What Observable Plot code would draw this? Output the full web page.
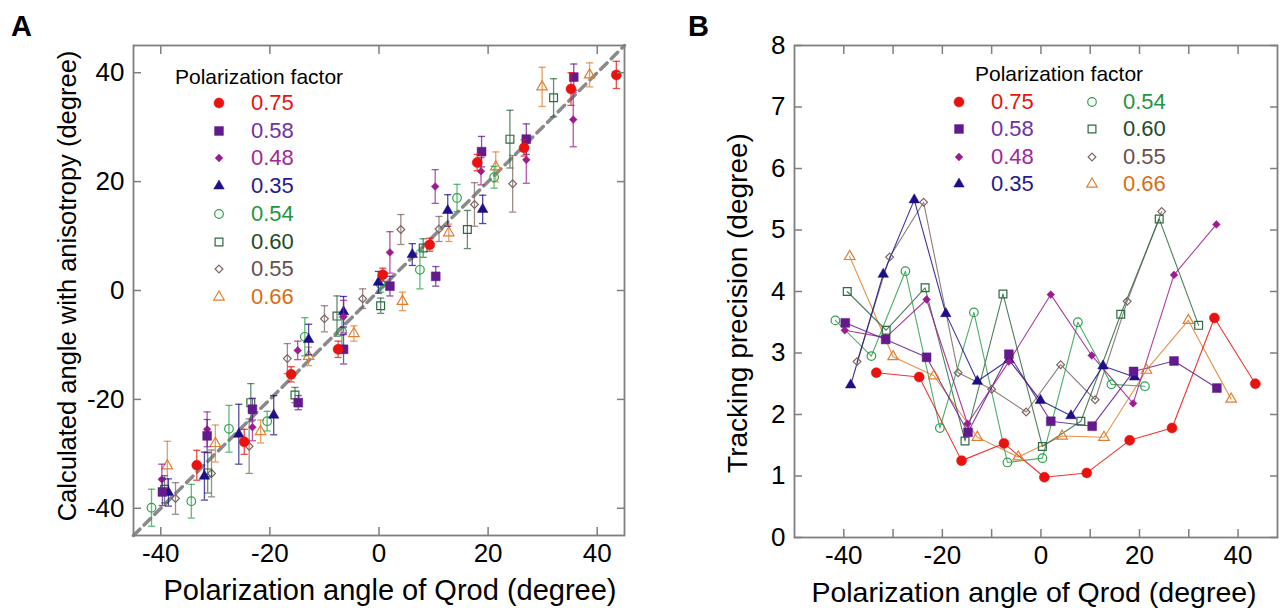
<!DOCTYPE html>
<html><head><meta charset="utf-8">
<script src="https://cdn.jsdelivr.net/npm/d3@7"></script>
<script src="https://cdn.jsdelivr.net/npm/@observablehq/plot@0.6"></script>
<style>
body{margin:0;background:#fff;font-family:"Liberation Sans",Arial,sans-serif;}
#wrap{position:relative;width:1284px;height:610px;overflow:hidden;background:#fff;}
.abs{position:absolute;white-space:nowrap;line-height:1;}
.plot{position:absolute;top:0;}
</style></head><body><div id="wrap"></div>
<script>
// ---------- data ----------
const factors = ["0.75","0.58","0.48","0.35","0.54","0.60","0.55","0.66"];
const symbols = ["circle","square","diamond2","triangle","circle","square","diamond2","triangle"];
const filled = [true,true,true,true,false,false,false,false];
const markerColors = ["#e8120e","#621a8c","#9c1b90","#1c0f88","#2fa14d","#2e6a41","#7d6561","#e27e2f"];
const textColors = ["#e8120e","#7131a1","#a1279b","#27198f","#1f9643","#1d4b27","#66514b","#d86d13"];

// Polarization angle of Qrod (degree), one array per factor (same order as factors)
const qrodAngle = [
  [-33.4,-24.7,-16.1,-7.5,0.7,9.3,18.0,26.6,35.2,43.5],
  [-39.7,-31.5,-23.2,-14.8,-6.5,2.0,10.4,18.8,27.0,35.7],
  [-39.8,-31.5,-23.2,-14.9,-6.5,2.0,10.3,18.7,27.0,35.6],
  [-38.6,-32.0,-25.7,-19.3,-12.9,-6.5,-0.1,6.1,12.6,19.0],
  [-41.7,-34.4,-27.5,-20.5,-13.6,-6.8,0.3,7.5,14.3,21.1],
  [-39.3,-31.4,-23.5,-15.4,-7.7,0.3,8.1,16.2,24.0,32.0],
  [-37.3,-30.7,-23.8,-16.8,-10.0,-3.0,4.0,11.0,17.5,24.5],
  [-38.8,-30.0,-21.7,-12.9,-4.6,4.3,12.8,21.4,29.9,38.6]
];
// Panel A: calculated angle with anisotropy (degree)
const calcAngle = [
  [-32.1,-27.8,-15.4,-10.8,2.9,8.4,23.5,26.2,37.0,39.6],
  [-37.0,-26.7,-21.8,-20.6,-10.8,0.8,2.6,25.5,27.8,39.2],
  [-34.7,-25.5,-25.1,-11.0,-4.8,7.0,19.1,21.9,24.0,31.4],
  [-37.1,-34.1,-26.4,-22.9,-9.0,-3.9,1.5,6.6,14.7,14.9],
  [-39.9,-38.7,-25.4,-24.0,-8.5,-7.5,1.2,3.8,17.0,20.8],
  [-36.5,-33.5,-20.6,-19.2,-4.7,-2.8,7.8,11.2,27.8,35.4],
  [-38.2,-33.6,-28.6,-12.5,-5.2,-1.5,11.2,11.3,15.8,19.6],
  [-32.2,-28.1,-25.9,-12.1,-7.9,-2.0,10.6,22.7,37.4,39.6]
];
// Panel A: error (half range, degree)
const calcErr = [
  [2.75,2.3,1.4,1.5,1.2,1.2,1.5,1.5,3.0,2.5],
  [2.5,3.0,2.0,1.3,2.7,1.8,1.8,2.8,2.8,2.4],
  [2.8,3.2,2.5,1.7,3.0,3.8,3.1,2.5,4.3,5.0],
  [2.5,4.4,5.5,3.6,2.8,2.8,2.0,2.0,2.9,2.6],
  [3.4,3.1,4.3,1.8,3.5,2.6,1.5,3.5,2.5,2.0],
  [2.5,3.7,3.5,1.4,3.7,1.4,1.7,3.5,5.3,3.5],
  [2.9,4.3,5.0,2.75,2.4,1.8,2.75,2.3,4.0,5.2],
  [4.5,3.4,2.1,1.7,1.4,1.7,1.6,2.75,3.6,2.2]
];
// Panel B: tracking precision (degree)
const precision = [
  [2.68,2.61,1.25,1.53,0.98,1.05,1.58,1.78,3.57,2.50],
  [3.49,3.22,2.93,1.71,2.98,1.89,1.81,2.70,2.87,2.43],
  [3.37,3.25,3.87,1.85,2.86,3.95,2.96,2.18,4.27,5.09],
  [2.48,4.28,5.49,3.64,2.54,2.89,2.23,1.98,2.79,2.61],
  [3.53,2.95,4.33,1.78,3.66,1.22,1.29,3.50,2.49,2.46],
  [4.00,3.37,4.06,1.57,3.96,1.48,1.89,3.63,5.18,3.45],
  [2.86,4.56,5.45,2.68,2.41,2.04,2.81,2.24,3.84,5.30],
  [4.57,2.94,2.63,1.63,1.31,1.65,1.63,2.72,3.53,2.25]
];
const domainA = [-45,45];
const ticksA = [-40,-20,0,20,40];
const domainBx = [-50,48];
const domainBy = [0,8];
const ticksBx = [-40,-30,-20,-10,0,10,20,30,40];
const ticksBy = [0,1,2,3,4,5,6,7,8];

// ---------- build ----------
const radii = [5,5,3.5,3.9,4.3,4.4,3.5,3.9];
const drawOrder = [7,6,5,4,3,2,1,0];
const wrap = document.getElementById("wrap");
const font = "Liberation Sans, Arial, sans-serif";
const frameColor = "#7f7f7f";
const cap = {draw(ctx, size){ const r = Math.sqrt(size/Math.PI); ctx.moveTo(-r,0); ctx.lineTo(r,0); }};

const rowsA = [], rowsB = [];
factors.forEach((f,s) => qrodAngle[s].forEach((x,i) => {
  rowsA.push({s, f, x, y: calcAngle[s][i], e: calcErr[s][i]});
  rowsB.push({s, f, x, y: precision[s][i]});
}));

function axes(xt, yt, xfmt, yfmt){
  const common = {stroke: frameColor, strokeWidth: 1.5, fill: "#000", label: null, tickSize: -8};
  return [
    Plot.axisX({...common, anchor: "bottom", ticks: xt, tickPadding: 16, tickFormat: xfmt}),
    Plot.axisX({...common, anchor: "top", ticks: xt, tickFormat: () => ""}),
    Plot.axisY({...common, anchor: "left", ticks: yt, tickPadding: 17, tickFormat: yfmt}),
    Plot.axisY({...common, anchor: "right", ticks: yt, tickFormat: () => ""}),
    Plot.frame({stroke: frameColor, strokeWidth: 1.8})
  ];
}

// Panel A
const marksA = [];
marksA.push(Plot.line([{x: domainA[0], y: domainA[0]}, {x: domainA[1], y: domainA[1]}],
  {x: "x", y: "y", stroke: "#8a8a8a", strokeWidth: 3.5, strokeDasharray: "9,6"}));
for (const s of drawOrder) {
  const d = rowsA.filter(r => r.s === s);
  const c = markerColors[s];
  marksA.push(Plot.ruleX(d, {x: "x", y1: r => r.y - r.e, y2: r => r.y + r.e, stroke: c, strokeOpacity: 0.75, strokeWidth: 1.3}));
  marksA.push(Plot.dot(d, {x: "x", y: r => r.y - r.e, symbol: cap, r: 3.6, fill: "none", stroke: c, strokeOpacity: 0.75, strokeWidth: 1.3}));
  marksA.push(Plot.dot(d, {x: "x", y: r => r.y + r.e, symbol: cap, r: 3.6, fill: "none", stroke: c, strokeOpacity: 0.75, strokeWidth: 1.3}));
  marksA.push(Plot.dot(d, {x: "x", y: "y", symbol: symbols[s], r: radii[s],
    fill: filled[s] ? c : "none", stroke: c, strokeWidth: filled[s] ? 0.5 : 1.2}));
}
marksA.push(...axes(ticksA, ticksA, d => String(d), d => String(d)));

const plotA = Plot.plot({
  width: 650, height: 610,
  marginLeft: 133, marginRight: 26, marginTop: 45, marginBottom: 75,
  x: {domain: domainA, axis: null},
  y: {domain: domainA, axis: null},
  style: {fontFamily: font, fontSize: "26px", background: "transparent", overflow: "visible", color: "#000"},
  marks: marksA
});
plotA.classList.add("plot"); plotA.style.left = "0px";
wrap.appendChild(plotA);

// Panel B
const marksB = [];
for (const s of drawOrder) {
  const d = rowsB.filter(r => r.s === s);
  const c = markerColors[s];
  marksB.push(Plot.line(d, {x: "x", y: "y", stroke: c, strokeWidth: 1.1, strokeOpacity: 0.85}));
}
for (const s of drawOrder) {
  const d = rowsB.filter(r => r.s === s);
  const c = markerColors[s];
  marksB.push(Plot.dot(d, {x: "x", y: "y", symbol: symbols[s], r: radii[s],
    fill: filled[s] ? c : "#fff", fillOpacity: filled[s] ? 1 : 0, stroke: c, strokeWidth: filled[s] ? 0.5 : 1.2}));
}
marksB.push(...axes(ticksBx, ticksBy, d => d % 20 === 0 ? String(d) : "", d => String(d)));

const plotB = Plot.plot({
  width: 634, height: 610,
  marginLeft: 144, marginRight: 7, marginTop: 45, marginBottom: 73,
  x: {domain: domainBx, axis: null},
  y: {domain: domainBy, axis: null},
  style: {fontFamily: font, fontSize: "26px", background: "transparent", overflow: "visible", color: "#000"},
  marks: marksB
});
plotB.classList.add("plot"); plotB.style.left = "650px";
wrap.appendChild(plotB);

// ---------- text overlays ----------
function addText(txt, left, top, size, opts = {}) {
  const el = document.createElement("div");
  el.className = "abs";
  el.textContent = txt;
  el.style.left = left + "px";
  el.style.top = top + "px";
  el.style.fontSize = size + "px";
  el.style.color = opts.color || "#000";
  if (opts.bold) el.style.fontWeight = "bold";
  el.style.transform = opts.transform || "translate(0,-50%)";
  wrap.appendChild(el);
  return el;
}
addText("A", 11, 26, 29, {bold: true});
addText("B", 688, 26, 29, {bold: true});
addText("Polarization angle of Qrod (degree)", 390, 590, 29, {transform: "translate(-50%,-50%)"});
addText("Polarization angle of Qrod (degree)", 1034, 592, 28.5, {transform: "translate(-50%,-50%)"});
addText("Calculated angle with anisotropy (degree)", 0, 286, 25.5, {transform: "translate(-50%,-50%) rotate(-90deg)"}).style.left = "68px";
addText("Tracking precision (degree)", 738, 303, 28, {transform: "translate(-50%,-50%) rotate(-90deg)"});

const d3sym = {circle: d3.symbolCircle, square: d3.symbolSquare, diamond2: d3.symbolDiamond2, triangle: d3.symbolTriangle};
function legendMarker(s, cx, cy) {
  const svg = d3.create("svg").attr("width", 16).attr("height", 16)
    .style("position", "absolute").style("left", (cx - 8) + "px").style("top", (cy - 8) + "px").style("overflow", "visible");
  svg.append("path")
    .attr("transform", "translate(8,8)")
    .attr("d", d3.symbol().type(d3sym[symbols[s]]).size(Math.PI * radii[s] * radii[s])())
    .attr("fill", filled[s] ? markerColors[s] : "none")
    .attr("stroke", markerColors[s])
    .attr("stroke-width", filled[s] ? 0.5 : 1.2);
  wrap.appendChild(svg.node());
}
// Legend A
addText("Polarization factor", 175, 76, 21);
factors.forEach((f, s) => {
  const y = 103 + s * 27.7;
  legendMarker(s, 219, y);
  addText(f, 251, y, 22, {color: textColors[s]});
});
// Legend B
addText("Polarization factor", 975, 73, 21);
factors.forEach((f, s) => {
  const col = s < 4 ? 0 : 1, row = s % 4;
  const y = 101.5 + row * 27.5;
  legendMarker(s, col ? 1092 : 959, y);
  addText(f, col ? 1123 : 991, y, 22, {color: textColors[s]});
});
</script></body></html>
